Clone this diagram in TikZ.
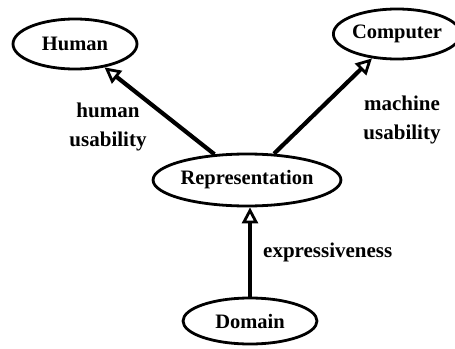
\documentclass[tikz,border=0pt]{standalone}
\usepackage{fontspec}
\setmainfont{Liberation Serif}
\usetikzlibrary{arrows.meta,shapes.geometric}
\begin{document}
\begin{tikzpicture}[x=1pt,y=-1pt,
  concept/.style={ellipse,draw,line width=2.8pt,inner sep=0pt,
    font=\fontsize{20.5}{24}\selectfont\bfseries},
  link/.style={line width=4.2pt,
    -{Triangle[open,length=16pt,width=16pt,line width=2.8pt]}},
  caption/.style={font=\fontsize{21}{29}\selectfont\bfseries,align=center,inner sep=0pt}]
\useasboundingbox (0,0) rectangle (455,348);
\node[concept,minimum width=124pt,minimum height=50pt] (human) at (75,44) {Human};
\node[concept,minimum width=122pt,minimum height=50pt] (computer) at (397,34) {Computer};
\node[concept,minimum width=154pt,minimum height=52pt] (rep) at (247,180) {Representation};
\node[concept,minimum width=134pt,minimum height=46pt] (dom) at (250,321) {Domain};
\draw[link] (rep) -- (human);
\draw[link] (rep) -- (computer);
\draw[link] (dom.north) -- (dom.north |- rep.south);
\node[caption] (hu) at (108,127) {human\\usability};
\node[caption] (mu) at (402,120) {machine\\usability};
\node[caption,anchor=west] (ex) at (263,252) {expressiveness};
\end{tikzpicture}
\end{document}
